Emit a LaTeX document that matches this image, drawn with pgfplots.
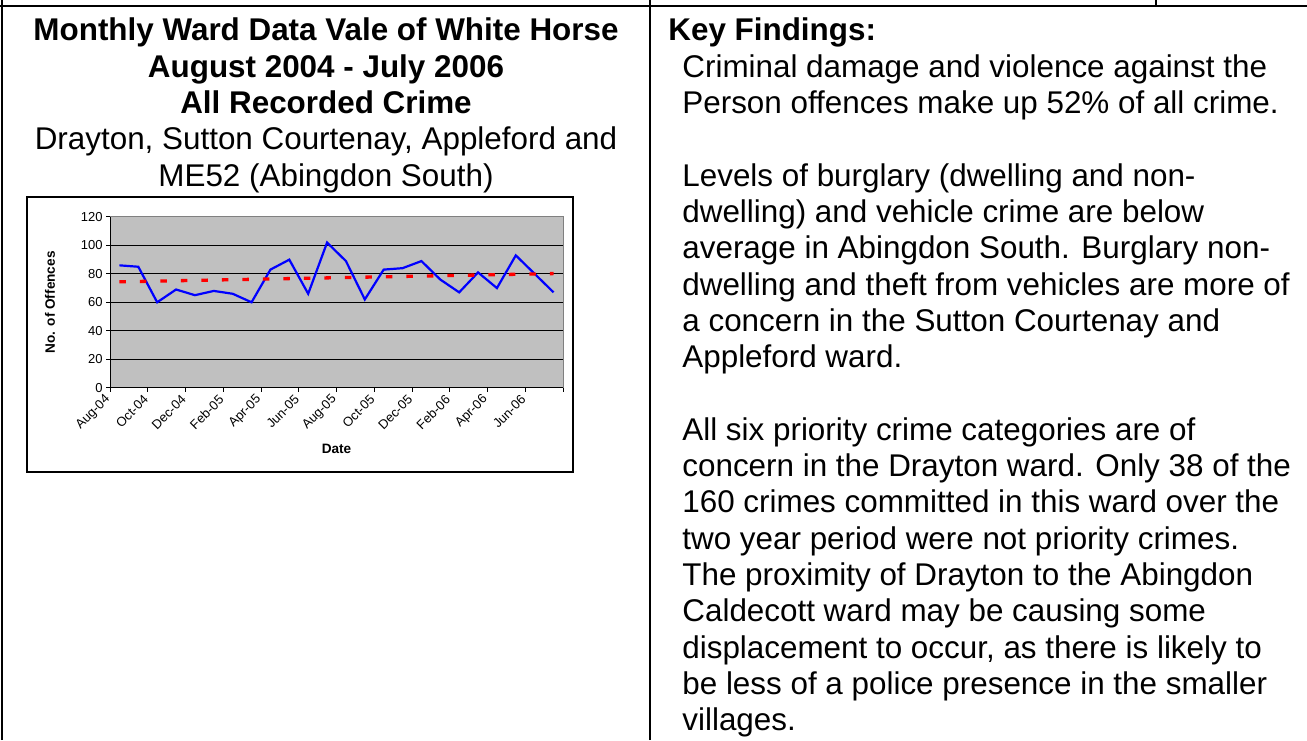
\documentclass[border=0pt]{standalone}
\usepackage{fontspec}
\setmainfont{Liberation Sans}
\usepackage{pgfplots}
\pgfplotsset{compat=1.18}
\definecolor{xlblue}{RGB}{0,0,255}
\definecolor{xlred}{RGB}{255,0,0}
\definecolor{xlgray}{RGB}{192,192,192}
\newcommand\T{\fontsize{15.7}{18}\selectfont}
\begin{document}
\begin{tikzpicture}[x=1pt,y=1pt]
\useasboundingbox (0,0) rectangle (653.5,370);
% table rules
\draw[line width=1pt] (0,367) -- (653.5,367);
\draw[line width=1pt] (1,0) -- (1,370);
\draw[line width=0.75pt] (325,0) -- (325,370);
\draw[line width=0.75pt] (578,367) -- (578,370);
% left column text
\node[anchor=base, inner sep=0] at (163,349.5) {\T\bfseries Monthly Ward Data Vale of White Horse};
\node[anchor=base, inner sep=0] at (163,331.35) {\T\bfseries August 2004 - July 2006};
\node[anchor=base, inner sep=0] at (163,313.2) {\T\bfseries All Recorded Crime};
\node[anchor=base, inner sep=0] at (163,295.05) {\T Drayton, Sutton Courtenay, Appleford and};
\node[anchor=base, inner sep=0] at (163,276.9) {\T ME52 (Abingdon South)};
% right column text
\node[anchor=base west, inner sep=0] at (334,349.5) {\T\bfseries Key Findings:};
\node[anchor=base west, inner sep=0] at (341,331.35) {\T Criminal damage and violence against the};
\node[anchor=base west, inner sep=0] at (341,313.2) {\T Person offences make up 52\% of all crime.};
\node[anchor=base west, inner sep=0] at (341,276.9) {\T Levels of burglary (dwelling and non-};
\node[anchor=base west, inner sep=0] at (341,258.75) {\T dwelling) and vehicle crime are below};
\node[anchor=base west, inner sep=0] at (341,240.6) {\T average in Abingdon South. Burglary non-};
\node[anchor=base west, inner sep=0] at (341,222.45) {\T dwelling and theft from vehicles are more of};
\node[anchor=base west, inner sep=0] at (341,204.3) {\T a concern in the Sutton Courtenay and};
\node[anchor=base west, inner sep=0] at (341,186.15) {\T Appleford ward.};
\node[anchor=base west, inner sep=0] at (341,149.85) {\T All six priority crime categories are of};
\node[anchor=base west, inner sep=0] at (341,131.7) {\T concern in the Drayton ward. Only 38 of the};
\node[anchor=base west, inner sep=0] at (341,113.55) {\T 160 crimes committed in this ward over the};
\node[anchor=base west, inner sep=0] at (341,95.4) {\T two year period were not priority crimes.};
\node[anchor=base west, inner sep=0] at (341,77.25) {\T The proximity of Drayton to the Abingdon};
\node[anchor=base west, inner sep=0] at (341,59.1) {\T Caldecott ward may be causing some};
\node[anchor=base west, inner sep=0] at (341,40.95) {\T displacement to occur, as there is likely to};
\node[anchor=base west, inner sep=0] at (341,22.8) {\T be less of a police presence in the smaller};
\node[anchor=base west, inner sep=0] at (341,4.65) {\T villages.};
% chart frame
\draw[line width=0.75pt] (13.5,134) rectangle (286.5,271.5);
\begin{axis}[
  at={(55pt,176.2pt)}, anchor=south west,
  scale only axis, width=226.5pt, height=85.3pt,
  xmin=0.5, xmax=24.5, ymin=0, ymax=120,
  xtick={0.5,2.5,...,24.5},
  xticklabels={Aug-04,Oct-04,Dec-04,Feb-05,Apr-05,Jun-05,Aug-05,Oct-05,Dec-05,Feb-06,Apr-06,Jun-06,},
  ytick={0,20,...,120},
  tick pos=left, tick align=outside, major tick length=2pt,
  tick style={black, line width=0.5pt},
  axis background/.style={fill=xlgray},
  axis line style={draw=black!50, line width=0.5pt},
  extra y ticks={20,40,60,80,100}, extra y tick labels={},
  extra y tick style={grid=major, major grid style={black, line width=0.5pt}},
  ticklabel style={font=\fontsize{6.5}{7.5}\selectfont},
  /pgf/number format/assume math mode=true,
  xticklabel style={xshift=-0.5pt, yshift=-2.5pt, rotate=45, anchor=east, inner sep=0.5pt},
  yticklabel style={inner sep=1.5pt},
  xlabel={Date}, ylabel={No. of Offences},
  label style={font=\fontsize{6.8}{8}\selectfont\bfseries},
  xlabel style={at={(axis description cs:0.5,-0.36)}, anchor=center},
  ylabel style={at={(axis description cs:-0.1325,0.5)}, anchor=center},
]
\addplot[xlblue, line width=1.1pt] coordinates {
(1,86) (2,85) (3,60) (4,69) (5,65) (6,68) (7,66) (8,60) (9,83) (10,90) (11,66) (12,102)
(13,89) (14,62) (15,83) (16,84) (17,89) (18,76) (19,67) (20,81) (21,70) (22,93) (23,80) (24,67)};
\addplot[xlred, line width=1.65pt, dash pattern=on 3.2pt off 7.05pt] coordinates {(1,74.4) (24,80.2)};
\draw[black, line width=0.6pt] (rel axis cs:0,1) -- (rel axis cs:0,0) -- (rel axis cs:1,0);
\end{axis}
\end{tikzpicture}
\end{document}
